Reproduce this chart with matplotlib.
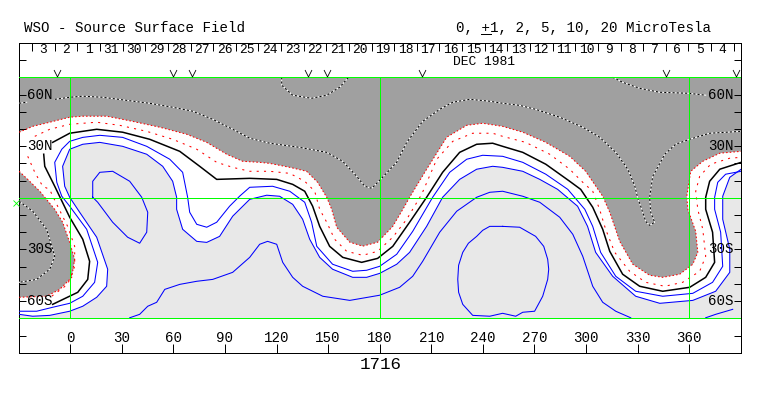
import matplotlib
matplotlib.use("Agg")
import matplotlib.pyplot as plt
from matplotlib.lines import Line2D
from matplotlib.path import Path

plt.rcParams['font.family'] = ['Liberation Mono', 'DejaVu Sans Mono']

# Contour lines, as (longitude, latitude)
neg2_north = [(-29.7,38.1),(-21.8,41.5),(-11.9,43.9),(-0.3,46.8),(7.3,47.4),(21.2,47.4),(36.3,44.4),(52.1,41.0),(67.8,36.9),(79.4,32.2),(91.0,25.3),(100.3,21.2),(110.2,20.6),(116.0,20.0),(127.7,17.7),(137.5,15.4),(143.9,9.0),(149.2,0.3),(152.1,-6.7),(155.0,-17.1),(162.6,-25.8),(170.1,-28.1),(178.8,-25.8),(187.6,-16.6),(194.5,-4.9),(197.4,0.3),(207.3,16.6),(219.0,35.2),(230.6,42.1),(239.9,43.3),(251.5,41.5),(263.2,38.1),(276.6,32.2),(290.5,24.1),(299.8,15.4),(309.7,0.9),(313.8,-8.4),(319.6,-25.3),(327.2,-38.6),(337.0,-45.0),(344.6,-46.2),(354.5,-44.4),(362.1,-38.6),(365.0,-31.7),(363.8,-19.5),(359.2,-6.7),(358.6,0.9),(360.9,15.4),(367.9,21.2),(377.8,25.9),(390.2,27.0)]
neg2_south = [(-29.7,15.4),(-24.7,10.7),(-17.7,3.8),(-9.0,-6.7),(-4.4,-14.2),(-0.3,-25.9),(2.6,-35.7),(0.9,-46.2),(-6.1,-53.2),(-13.7,-57.2),(-29.7,-57.8)]
neg1_left = [(-24.7,24.1),(-20.6,14.8),(-16.0,6.7),(-12.0,4.9),(-7.3,-4.9),(-1.5,-16.6),(2.6,-28.2),(2.6,-39.8),(-1.5,-50.3),(-10.8,-57.2)]
neg1_main = [(-20.6,35.7),(-11.9,39.8),(-0.3,42.7),(15.4,43.9),(28.8,42.1),(44.5,38.6),(59.6,34.0),(73.6,28.2),(85.2,20.6),(94.5,17.7),(104.4,15.4),(116.0,15.4),(127.7,14.2),(136.4,9.6),(142.2,3.8),(145.1,-6.7),(149.2,-14.2),(153.8,-24.1),(160.8,-31.1),(170.1,-33.4),(178.8,-31.1),(187.6,-22.9),(195.7,-12.5),(204.4,2.0),(213.2,22.4),(222.5,32.8),(234.1,37.5),(245.7,37.5),(251.5,35.7),(264.9,32.2),(278.9,25.3),(290.5,16.6),(298.1,9.0),(303.9,3.8),(307.9,-6.7),(311.4,-18.3),(316.7,-31.7),(325.4,-42.7),(334.7,-49.1),(345.8,-51.4),(356.2,-49.1),(366.1,-42.7),(369.6,-34.0),(367.9,-18.3),(365.0,-6.7),(363.8,3.8),(366.1,12.5),(372.5,19.5),(383.6,23.0),(390.2,23.5)]
zero_left = [(-15.4,25.3),(-14.8,18.3),(-9.0,6.7),(-0.3,-11.3),(7.3,-24.1),(11.3,-36.9),(10.2,-47.4),(4.4,-54.9),(-10.2,-61.9)]
zero_main = [(-10.2,32.2),(-0.3,37.5),(15.4,39.8),(30.5,38.1),(46.2,34.0),(63.7,27.0),(75.3,18.3),(85.2,10.7),(104.4,11.3),(120.1,10.7),(129.4,7.8),(136.4,3.8),(141.0,-4.9),(145.1,-16.6),(150.9,-28.2),(158.5,-34.6),(169.5,-37.5),(178.8,-35.2),(187.6,-28.2),(197.4,-14.2),(207.3,0.3),(216.6,14.8),(226.5,26.4),(236.4,31.1),(245.7,31.7),(251.5,29.9),(263.2,26.4),(276.6,19.5),(290.5,9.6),(296.9,4.9),(303.9,-5.5),(309.7,-18.3),(313.8,-31.1),(321.3,-44.4),(331.2,-51.4),(344.6,-54.3),(360.3,-52.0),(369.6,-46.2),(374.8,-37.5),(373.6,-20.0),(369.6,-6.7),(369.6,0.3),(371.9,9.6),(377.8,16.6),(390.2,20.6)]
pos1 = [(-29.7,-65.9),(-19.5,-65.9),(-10.2,-63.6),(-0.3,-61.3),(7.3,-57.2),(14.2,-49.1),(16.0,-37.5),(9.6,-18.3),(-0.3,-4.9),(-4.9,0.9),(-7.8,9.0),(-9.0,20.6),(-4.9,28.2),(-0.3,32.8),(7.3,35.1),(17.2,36.3),(30.5,35.1),(44.5,29.9),(57.9,22.4),(65.4,14.8),(68.3,0.3),(69.5,-8.4),(73.6,-15.4),(79.4,-17.1),(85.2,-14.2),(92.7,-4.9),(98.5,0.9),(104.4,6.1),(117.7,6.7),(127.7,3.8),(136.4,-2.6),(140.4,-14.2),(143.4,-28.2),(152.6,-38.6),(164.3,-42.7),(172.4,-42.1),(180,-39.8),(189.9,-32.8),(199.2,-19.5),(210.8,0.3),(220.7,14.8),(230.6,22.4),(239.9,24.7),(251.5,24.1),(263.2,20.6),(276.6,13.7),(289.4,4.9),(299.3,-6.7),(303.9,-16.6),(308.5,-31.7),(317.3,-45.6),(328.9,-54.3),(344.6,-57.2),(362.1,-55.5),(373.6,-49.1),(379.5,-39.8),(378.3,-20.0),(374.8,-6.7),(374.8,0.3),(376.6,9.0),(381.2,13.7),(390.2,15.4)]
pos2 = [(-29.7,-67.7),(-21.8,-68.8),(-11.9,-68.3),(-0.3,-65.9),(7.3,-63.0),(15.4,-57.8),(21.2,-51.4),(21.8,-41.5),(15.4,-22.9),(5.5,-8.4),(-0.3,0.3),(-3.2,6.7),(-4.4,18.3),(-0.3,28.2),(7.3,31.1),(17.2,32.2),(30.5,29.9),(44.5,25.3),(53.8,18.3),(59.6,9.6),(61.9,0.3),(61.9,-6.7),(65.4,-18.3),(73.6,-25.3),(79.4,-25.9),(86.9,-22.4),(94.5,-10.7),(104.4,-0.9),(114.3,1.5),(121.8,0.9),(129.4,-3.8),(135.2,-12.5),(139.3,-24.1),(145.1,-34.6),(152.6,-41.5),(164.3,-46.2),(172.4,-46.2),(180,-43.9),(189.9,-38.6),(197.4,-31.7),(207.3,-16.6),(216.6,0.3),(226.5,10.7),(236.4,16.6),(245.7,18.3),(251.5,17.7),(263.2,15.4),(273.1,10.7),(283.5,4.9),(295.1,-4.9),(300.9,-16.6),(305.6,-31.7),(315.5,-45.6),(328.9,-57.2),(342.9,-61.3),(362.1,-59.6),(375.4,-54.3),(383.6,-43.3),(383.6,-29.9),(379.5,-12.5),(379.5,0.9),(383.6,11.9),(390.2,16.6)]
pos5_main = [(34.6,-69.7),(40.4,-67.7),(45.1,-63.0),(50.3,-60.7),(55.0,-53.2),(63.7,-50.3),(73.6,-48.5),(82.9,-47.4),(94.5,-43.3),(104.4,-34.6),(110.2,-27.0),(114.8,-25.3),(120.1,-27.0),(123.6,-37.5),(129.4,-46.2),(135.2,-51.4),(146.9,-57.2),(162.6,-59.6),(180,-56.6),(191.6,-52.0),(199.2,-45.6),(205.0,-36.9),(214.9,-20.0),(224.8,-7.8),(236.4,0.3),(244.0,3.2),(251.5,3.8),(263.2,0.9),(273.1,-2.6),(284.7,-11.3),(292.3,-21.2),(298.1,-34.0),(303.9,-51.4),(309.7,-60.7),(317.3,-65.9),(326,-69.7)]
pos5_right = [(369.6,-69.7),(375.4,-67.7),(385.3,-64.8)]
pos5_loop = [(13.1,0.3),(13.1,9.6),(17.2,14.8),(24.7,15.4),(34.6,9.6),(41.6,0.3),(45.1,-8.4),(44.5,-20.0),(40.4,-26.4),(33.4,-22.9),(24.7,-14.2),(16.0,-2.6),(13.1,0.3)]
pos10_loop = [(251.5,-16.6),(261.4,-17.1),(270.7,-22.4),(275.4,-28.2),(277.7,-35.7),(278.3,-41.5),(277.7,-47.4),(274.8,-57.2),(270.1,-65.9),(263.2,-66.5),(259.1,-68.8),(251.5,-67.1),(244.0,-68.8),(234.1,-68.3),(228.3,-61.9),(225.9,-54.9),(225.4,-47.4),(225.9,-39.2),(228.3,-31.7),(231.6,-26.4),(236.4,-22.4),(239.9,-18.9),(244.0,-16.6),(251.5,-16.6)]
neg5_stub = [(-29.7,54.9),(-25.3,55.5)]
neg5_main = [(-9.0,57.2),(-0.3,58.4),(7.3,59.0),(18.9,58.4),(32.9,56.6),(46.2,54.9),(59.6,52.6),(71.2,50.3),(82.9,45.6),(94.5,39.8),(104.4,34.6),(116.0,31.7),(133.5,29.3),(149.2,26.4),(158.5,21.2),(166.6,12.5),(171.3,6.7),(175.4,5.5),(180,10.2),(189.9,20.6),(195.7,32.2),(205.0,44.4),(214.9,51.4),(222.5,55.5),(232.4,57.2),(244.0,56.1),(251.5,54.9),(261.4,53.7),(270.7,51.4),(284.7,46.8),(298.1,41.0),(307.9,35.2),(317.3,26.4),(324.3,16.6),(328.4,6.7),(330.1,-0.3),(331.8,-4.9),(334.7,-13.7),(337.0,-16.0),(339.9,-14.2),(337.6,-8.4),(337.0,0.3),(338.8,12.5),(345.8,25.3),(352.1,31.1),(360.3,34.0),(371.9,37.5),(390.2,38.6)]
neg5_top = [(123,70),(123,65.4),(129.4,59.6),(140.4,57.8),(149.2,59.6),(156.7,64.2),(161.9,70)]
neg5_right = [(315.5,70),(321.3,67.1),(331.2,63.6),(342.9,61.3),(359.8,60.7),(369.6,59.6)]
neg5_south = [(-29.7,-2.0),(-21.8,-7.8),(-13.7,-18.3),(-9.0,-34.0),(-11.9,-41.5),(-19.5,-47.4),(-29.7,-49.1)]

# Labels and tick positions
day_labels = ['3','2','1','31','30','29','28','27','26','25','24','23','22','21','20','19','18','17','16','15','14','13','12','11','10','9','8','7','6','5','4']
day_ticks = [-22.1 + 13.16 * i for i in range(32)]
lon_ticks = [0, 30, 60, 90, 120, 150, 180, 210, 240, 270, 300, 330, 360]
lat_ticks = [-80, -70, -60, -50, -40, -30, -20, -10, 0, 10, 20, 30, 40, 50, 60, 70, 80]
lat_labels = {60: '60N', 30: '30N', -30: '30S', -60: '60S'}
crossing_lons = [-7.8, 59.6, 70.9, 138.2, 149.2, 204.4, 346.5, 387]

XMIN, XMAX = -29.66, 390.25
YTOP = 70
THIN = 0.75

W, H = 763, 396
fig = plt.figure(figsize=(W / 100, H / 100), dpi=100)
ax = fig.add_axes([19.2 / W, (H - 353.2) / H, 722 / W, 310 / H])
ax.set_xlim(XMIN, XMAX)
ax.set_ylim(-90.28, 89.81)


def xy(line):
    return [p[0] for p in line], [p[1] for p in line]


# Filled zones: light above +2, white below it, gray below -2
ax.fill_between([XMIN, XMAX], -YTOP, YTOP, color='#e8e8e8', lw=0, zorder=0.5)
x, y = xy(pos2)
ax.fill(x + [XMAX, XMIN], y + [YTOP, YTOP], color='white', lw=0, zorder=0.6)
x, y = xy(neg2_north)
ax.fill(x + [XMAX, XMIN], y + [YTOP, YTOP], color='#a0a0a0', lw=0, zorder=0.7)
x, y = xy(neg2_south)
ax.fill(x, y, color='#a0a0a0', lw=0, zorder=0.7)

# Contours
for line in [pos1, pos2, pos5_main, pos5_right, pos5_loop, pos10_loop]:
    ax.plot(*xy(line), color='#0000ff', lw=THIN, zorder=4)
for line in [zero_left, zero_main]:
    ax.plot(*xy(line), color='black', lw=1.1, zorder=4)
for line in [neg2_north, neg2_south]:
    ax.plot(*xy(line), color='red', lw=THIN, ls=(0, (1.5, 2)), zorder=4)
for line in [neg1_left, neg1_main]:
    ax.plot(*xy(line), color='red', lw=THIN, ls=(0, (2, 5)), zorder=4)
for line in [neg5_stub, neg5_main, neg5_top, neg5_right, neg5_south]:
    ax.plot(*xy(line), color='white', lw=THIN, zorder=4)
    ax.plot(*xy(line), color='black', lw=THIN, ls=(0, (2, 2)), zorder=5)

# Green reference lines
for lon in [0, 180, 360]:
    ax.plot([lon, lon], [-YTOP, YTOP], color='#00ff00', lw=0.72, snap=True, zorder=6)
for lat in [-YTOP, 0, YTOP]:
    ax.plot([XMIN, XMAX], [lat, lat], color='#00ff00', lw=0.72, snap=True, zorder=6)
ax.plot([-31.5], [-3.3], ls='none', marker='x', ms=4, mec='#00ff00', mew=0.6, clip_on=False, zorder=6)

# Frame and ticks
for spine in ax.spines.values():
    spine.set_linewidth(0.72)
ax.set_xticks(lon_ticks)
ax.set_yticks(lat_ticks)
ax.tick_params(axis='x', direction='in', length=6.5, width=0.72, labelbottom=False)
ax.tick_params(axis='y', direction='in', length=5, width=0.72, left=True, right=True, labelleft=False)
top = ax.secondary_xaxis('top')
top.spines['top'].set_linewidth(0.72)
top.set_xticks(day_ticks)
top.tick_params(direction='in', length=5.8, width=0.72, labeltop=False)

# Text
fs = 10.2
for lon in lon_ticks:
    ax.text(lon, -81.3, str(lon), fontsize=fs, ha='center', va='center', zorder=7)
for lat, label in lat_labels.items():
    ax.text(-17.8, lat, label, fontsize=fs, ha='center', va='center', zorder=7)
    ax.text(378.3, lat, label, fontsize=fs, ha='center', va='center', zorder=7)
for i, label in enumerate(day_labels):
    ax.text((day_ticks[i] + day_ticks[i + 1]) / 2, 85.8, label, fontsize=9.4, ha='center', va='center', zorder=7)
ax.text(240.8, 78.6, 'DEC 1981', fontsize=9.4, ha='center', va='center', zorder=7)

check_mark = Path([(-1, 1), (0, -1), (1, 1)], [Path.MOVETO, Path.LINETO, Path.LINETO])
ax.plot(crossing_lons, [72.3] * len(crossing_lons), ls='none', marker=check_mark, ms=5, mfc='none', mec='black', mew=0.6, clip_on=False, zorder=7)
ax.text(180.4, -97, '1716', fontsize=12.6, ha='center', va='center')

fig.text(24 / W, 1 - 28 / H, 'WSO - Source Surface Field', fontsize=fs, va='center')
fig.text(456 / W, 1 - 28 / H, '0, +1, 2, 5, 10, 20 MicroTesla', fontsize=fs, va='center')
fig.add_artist(Line2D([481 / W, 491 / W], [1 - 33.5 / H, 1 - 33.5 / H], color='black', lw=0.72, snap=True))

fig.savefig('out.png', dpi=100)
